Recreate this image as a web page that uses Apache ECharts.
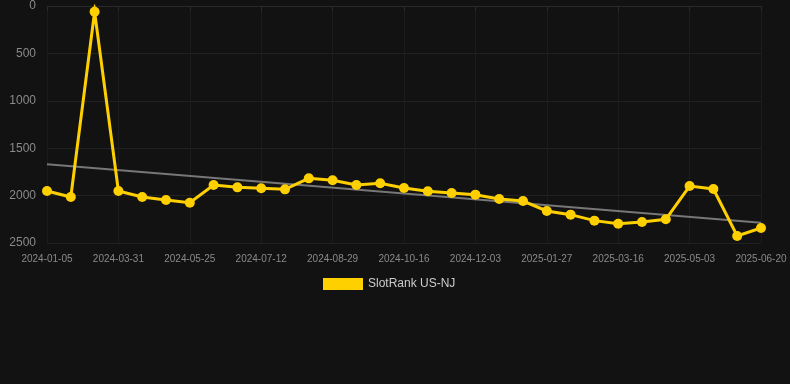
<!DOCTYPE html>
<html>
<head>
<meta charset="utf-8">
<script src="https://cdn.jsdelivr.net/npm/echarts@6/dist/echarts.min.js"></script>
<style>
html,body{margin:0;padding:0;background:#121212;}
#c{width:790px;height:384px;}
</style>
</head>
<body>
<div id="c"></div>
<script>
var categories = ['2024-01-05','2024-02-03','2024-03-02','2024-03-31','2024-04-18','2024-05-07','2024-05-25','2024-06-10','2024-06-26','2024-07-12','2024-07-28','2024-08-13','2024-08-29','2024-09-14','2024-09-30','2024-10-16','2024-11-01','2024-11-17','2024-12-03','2024-12-21','2025-01-08','2025-01-27','2025-02-12','2025-02-28','2025-03-16','2025-04-01','2025-04-17','2025-05-03','2025-05-19','2025-06-04','2025-06-20'];
var rankValues = [1951,2015,60,1951,2015,2046,2075,1888,1913,1923,1934,1818,1839,1888,1870,1920,1955,1973,1990,2036,2057,2162,2201,2264,2296,2278,2250,1899,1930,2426,2342];
var trendStart = 1670;
var trendEnd = 2286;
var yTicks = [0,500,1000,1500,2000,2500];
var seriesName = 'SlotRank US-NJ';

var chart = echarts.init(document.getElementById('c'));
chart.setOption({
  backgroundColor: '#121212',
  animation: false,
  grid: {left: 47, right: 29, top: 6, bottom: 141},
  legend: {
    data: [seriesName],
    top: 273,
    left: 318,
    icon: 'rect',
    itemWidth: 40,
    itemHeight: 12,
    textStyle: {color: '#cccccc', fontSize: 12}
  },
  xAxis: {
    type: 'category',
    data: categories,
    boundaryGap: false,
    axisLine: {show: true, lineStyle: {color: '#2a2a2a'}},
    axisTick: {show: true, interval: 2, length: 5, lineStyle: {color: '#2a2a2a'}},
    axisLabel: {interval: 2, color: '#8a8a8a', fontSize: 10, margin: 11},
    splitLine: {show: true, interval: 2, lineStyle: {color: '#1c1c1c'}}
  },
  yAxis: {
    type: 'value',
    inverse: true,
    min: yTicks[0],
    max: yTicks[yTicks.length - 1],
    interval: yTicks[1] - yTicks[0],
    axisLine: {show: false},
    axisTick: {show: false},
    axisLabel: {color: '#8a8a8a', fontSize: 12, margin: 11, formatter: function (v) { return String(v); }},
    splitLine: {show: true, lineStyle: {color: '#222222'}}
  },
  series: [
    {
      name: 'trend',
      type: 'line',
      data: [[0, trendStart], [categories.length - 1, trendEnd]],
      symbol: 'none',
      lineStyle: {color: '#777777', width: 2},
      z: 1,
      silent: true
    },
    {
      name: seriesName,
      type: 'line',
      data: rankValues,
      symbol: 'circle',
      symbolSize: 10,
      itemStyle: {color: '#ffd000'},
      lineStyle: {color: '#ffd000', width: 3, join: 'miter'},
      z: 3
    }
  ]
});
</script>
</body>
</html>
